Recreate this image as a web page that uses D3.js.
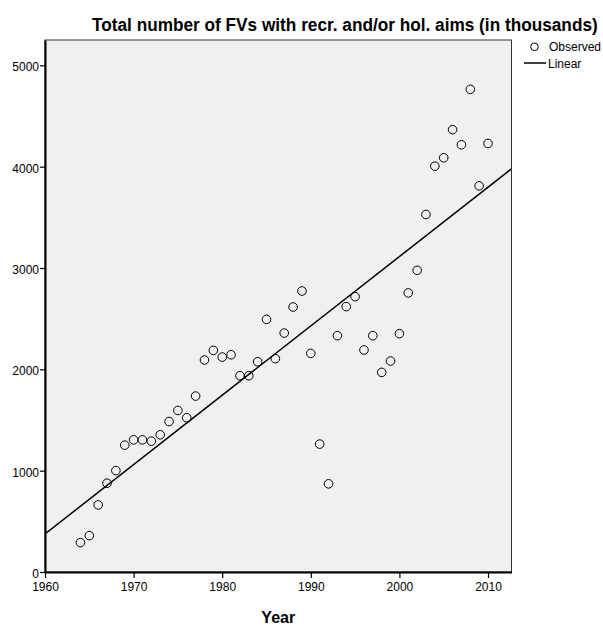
<!DOCTYPE html>
<html>
<head>
<meta charset="utf-8">
<script src="https://cdn.jsdelivr.net/npm/d3@7"></script>
<style>
  html, body { margin: 0; padding: 0; background: #ffffff; }
  svg { display: block; }
</style>
</head>
<body>
<svg id="chart" width="603" height="627"></svg>
<script>
// ---- data ----
const years = [1964,1965,1966,1967,1968,1969,1970,1971,1972,1973,1974,1975,1976,1977,1978,1979,1980,
  1981,1982,1983,1984,1985,1986,1987,1988,1989,1990,1991,1992,1993,1994,1995,1996,1997,1998,1999,2000,2001,2002,
  2003,2004,2005,2006,2007,2008,2009,2010];
const observed = [290,359,662,876,1001,1252,1304,1304,1291,1354,1485,1594,1522,1736,2092,2187,2121,
  2144,1937,1937,2075,2493,2105,2358,2615,2773,2157,1262,870,2332,2619,2717,2191,2332,1970,2082,2352,2754,2977,
  3528,4005,4088,4365,4216,4763,3811,4229];
const xTicks = [1960,1970,1980,1990,2000,2010];
const yTicks = [0,1000,2000,3000,4000,5000];
const titleText = "Total number of FVs with recr. and/or hol. aims (in thousands)";
const xLabel = "Year";
const legendLabels = ["Observed", "Linear"];

// ---- layout ----
const svg = d3.select("#chart");
const plot = {left: 45, right: 511.5, top: 40, bottom: 572};
const x = d3.scaleLinear().domain([1960, 2012.65]).range([plot.left, plot.right]);
const y = d3.scaleLinear().domain([0, 5250]).range([plot.bottom, plot.top]);

// plot background
svg.append("rect")
  .attr("x", plot.left).attr("y", plot.top)
  .attr("width", plot.right - plot.left).attr("height", plot.bottom - plot.top)
  .attr("fill", "#f0f0f0").attr("stroke", "#333").attr("stroke-width", 1);

// clip
svg.append("clipPath").attr("id", "clip").append("rect")
  .attr("x", plot.left).attr("y", plot.top)
  .attr("width", plot.right - plot.left).attr("height", plot.bottom - plot.top);

// linear regression from data
const n = years.length;
const mx = d3.mean(years), my = d3.mean(observed);
let sxy = 0, sxx = 0;
for (let i = 0; i < n; i++) { sxy += (years[i]-mx)*(observed[i]-my); sxx += (years[i]-mx)**2; }
const slope = sxy / sxx, intercept = my - slope * mx;
const xd = x.domain();
svg.append("path")
  .attr("clip-path", "url(#clip)")
  .attr("d", d3.line().x(d => x(d)).y(d => y(intercept + slope * d))(xd))
  .attr("fill", "none").attr("stroke", "#000").attr("stroke-width", 1.5);

// points
svg.append("g").selectAll("circle")
  .data(years.map((yr, i) => ({yr, v: observed[i]})))
  .join("circle")
  .attr("cx", d => x(d.yr)).attr("cy", d => y(d.v)).attr("r", 4.3)
  .attr("fill", "none").attr("stroke", "#000").attr("stroke-width", 1);

// axes
const fontTick = "'Liberation Sans', Arial, sans-serif";
const xAxis = svg.append("g").attr("transform", `translate(0,${plot.bottom})`)
  .call(d3.axisBottom(x).tickValues(xTicks).tickFormat(d3.format("d")).tickSize(6).tickSizeOuter(0));
const yAxis = svg.append("g").attr("transform", `translate(${plot.left},0)`)
  .call(d3.axisLeft(y).tickValues(yTicks).tickFormat(d3.format("d")).tickSize(5).tickSizeOuter(0));
[xAxis, yAxis].forEach(g => {
  g.select(".domain").attr("stroke", "#000").attr("stroke-width", 2);
  g.selectAll(".tick line").attr("stroke", "#000").attr("stroke-width", 1.2);
  g.selectAll(".tick text").attr("font-family", fontTick).attr("font-size", 12).attr("fill", "#000");
});
xAxis.selectAll(".tick text").attr("dy", "0.71em").attr("y", 10);
yAxis.selectAll(".tick text").attr("x", -6).attr("dy", "0.45em");

// title (condensed horizontally to match the narrow face of the reference)
const titleG = svg.append("g");
const title = titleG.append("text")
  .attr("x", 0).attr("y", 0)
  .attr("font-family", "'Liberation Sans Narrow', 'Arial Narrow', 'Liberation Sans', sans-serif")
  .attr("font-weight", "bold").attr("font-size", 19)
  .text(titleText);
const natural = title.node().getComputedTextLength();
const sx = 506 / natural;
titleG.attr("transform", `translate(92,31) scale(${sx},1)`);

// x label
svg.append("text")
  .attr("x", (plot.left + plot.right) / 2).attr("y", 623)
  .attr("text-anchor", "middle")
  .attr("font-family", fontTick).attr("font-weight", "bold").attr("font-size", 16)
  .text(xLabel);

// legend
const lg = svg.append("g");
lg.append("circle").attr("cx", 534.5).attr("cy", 46.8).attr("r", 3.8)
  .attr("fill", "none").attr("stroke", "#000").attr("stroke-width", 1);
lg.append("text").attr("x", 549).attr("y", 51).attr("font-family", fontTick).attr("font-size", 12).text(legendLabels[0]);
lg.append("line").attr("x1", 524).attr("x2", 546).attr("y1", 63).attr("y2", 63)
  .attr("stroke", "#000").attr("stroke-width", 1.5);
lg.append("text").attr("x", 548).attr("y", 67.5).attr("font-family", fontTick).attr("font-size", 12).text(legendLabels[1]);
</script>
</body>
</html>
